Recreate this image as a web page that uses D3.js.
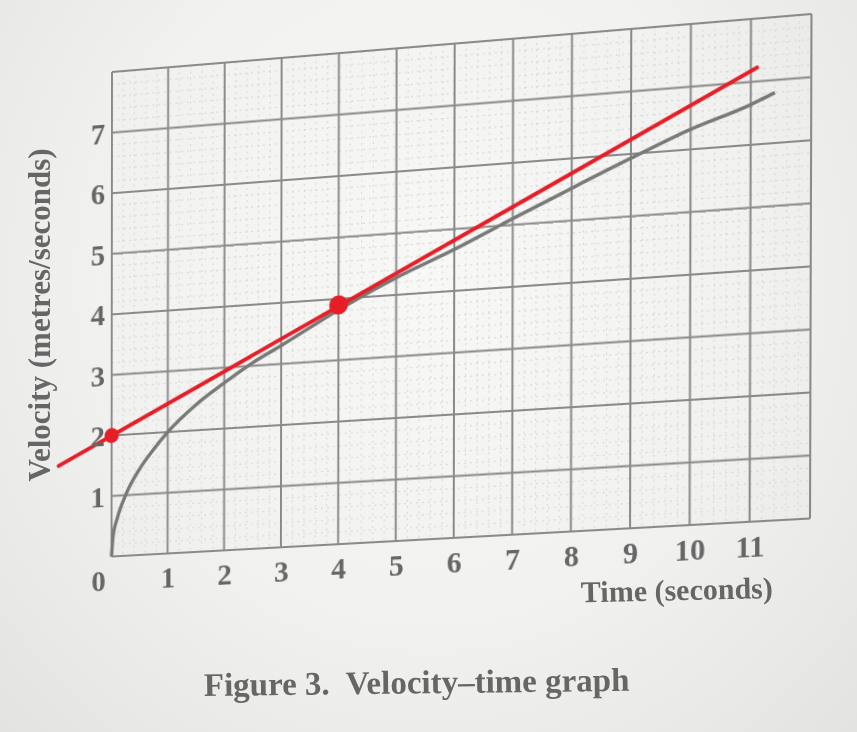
<!DOCTYPE html>
<html>
<head>
<meta charset="utf-8">
<script src="https://cdn.jsdelivr.net/npm/d3@7"></script>
<style>
  html, body { margin: 0; padding: 0; }
  body {
    width: 857px; height: 732px; overflow: hidden; position: relative;
    background: radial-gradient(ellipse at 50% 38%, #f8f8f7 0%, #f1f1f0 55%, #e3e3e2 100%);
  }
  #warp { position: absolute; left: 0; top: 0; width: 857px; height: 732px; transform-origin: 0 0; }
  #flat { position: absolute; left: 0; top: 0; }
  text { font-family: "Liberation Serif", "DejaVu Serif", serif; font-weight: bold; fill: #666; }
</style>
</head>
<body>
<div id="warp"></div>
<script>
// values
var xTicks = [0, 1, 2, 3, 4, 5, 6, 7, 8, 9, 10, 11];
var yTicks = [1, 2, 3, 4, 5, 6, 7];

// grey velocity curve
var curveTime     = [0, 0.03, 0.1, 0.25, 0.5, 0.75, 1, 1.5, 2, 2.5, 3, 4, 5, 6, 7, 8, 9, 10, 11, 11.4];
var curveVelocity = [0, 0.35, 0.62, 1.0, 1.42, 1.73, 2.0, 2.42, 2.75, 3.05, 3.3, 3.82, 4.28, 4.67, 5.1, 5.52, 5.93, 6.32, 6.64, 6.8];

// red tangent line and its two points
var tangentTime     = [-0.95, 11.1];
var tangentVelocity = [1.55, 7.22];
var dotTime     = [0, 4];
var dotVelocity = [2, 3.9];

var width = 857;
var height = 732;

var xScale = d3.scaleLinear().domain([0, 12]).range([111, 811]);
var yScale = d3.scaleLinear().domain([0, 8]).range([556, 72]);

// the figure is a photo of a page, so the flat chart is put in perspective
// corners of the grid: flat position -> where they sit in the photo
var flatCorners  = [[111, 556], [811, 556], [811, 72], [111, 72]];
var photoCorners = [[111.5, 556.5], [810, 518.5], [811.5, 14], [112, 72]];

function homography(src, dst) {
  var A = [];
  for (var i = 0; i < 4; i++) {
    var x = src[i][0], y = src[i][1], u = dst[i][0], v = dst[i][1];
    A.push([x, y, 1, 0, 0, 0, -x * u, -y * u, u]);
    A.push([0, 0, 0, x, y, 1, -x * v, -y * v, v]);
  }
  var n = 8;
  for (var c = 0; c < n; c++) {
    var p = c;
    for (var r = c + 1; r < n; r++) if (Math.abs(A[r][c]) > Math.abs(A[p][c])) p = r;
    var tmp = A[c]; A[c] = A[p]; A[p] = tmp;
    for (var r2 = c + 1; r2 < n; r2++) {
      var f = A[r2][c] / A[c][c];
      for (var k = c; k <= n; k++) A[r2][k] -= f * A[c][k];
    }
  }
  var h = new Array(n);
  for (var i2 = n - 1; i2 >= 0; i2--) {
    var s = A[i2][n];
    for (var k2 = i2 + 1; k2 < n; k2++) s -= A[i2][k2] * h[k2];
    h[i2] = s / A[i2][i2];
  }
  return h;
}

var h = homography(flatCorners, photoCorners);
d3.select("#warp").style("transform",
  "matrix3d(" + [h[0], h[3], 0, h[6], h[1], h[4], 0, h[7], 0, 0, 1, 0, h[2], h[5], 0, 1].join(",") + ")");

var svg = d3.select("#warp")
  .append("svg")
  .attr("width", width)
  .attr("height", height);

// fine graph-paper lines, five to a square
var minorX = d3.range(0, 12.001, 0.2).filter(function(d){ return Math.abs(d - Math.round(d)) > 0.01; });
var minorY = d3.range(0, 8.001, 0.2).filter(function(d){ return Math.abs(d - Math.round(d)) > 0.01; });

svg.append("g").selectAll("line")
  .data(minorX)
  .enter()
  .append("line")
  .attr("x1", function(d){ return xScale(d); })
  .attr("x2", function(d){ return xScale(d); })
  .attr("y1", yScale(8))
  .attr("y2", yScale(0))
  .attr("stroke", "#d6d6d6")
  .attr("stroke-width", 1)
  .attr("stroke-dasharray", "2,4");

svg.append("g").selectAll("line")
  .data(minorY)
  .enter()
  .append("line")
  .attr("x1", xScale(0))
  .attr("x2", xScale(12))
  .attr("y1", function(d){ return yScale(d); })
  .attr("y2", function(d){ return yScale(d); })
  .attr("stroke", "#d6d6d6")
  .attr("stroke-width", 1)
  .attr("stroke-dasharray", "2,4");

// major grid
svg.append("g").selectAll("line")
  .data(d3.range(0, 13))
  .enter()
  .append("line")
  .attr("x1", function(d){ return xScale(d); })
  .attr("x2", function(d){ return xScale(d); })
  .attr("y1", yScale(8))
  .attr("y2", yScale(0))
  .attr("stroke", "#8a8a8a")
  .attr("stroke-width", 2);

svg.append("g").selectAll("line")
  .data(d3.range(0, 9))
  .enter()
  .append("line")
  .attr("x1", xScale(0))
  .attr("x2", xScale(12))
  .attr("y1", function(d){ return yScale(d); })
  .attr("y2", function(d){ return yScale(d); })
  .attr("stroke", "#8a8a8a")
  .attr("stroke-width", 2);

// velocity curve
var curvePoints = curveTime.map(function(t, i){ return [t, curveVelocity[i]]; });
var line = d3.line()
  .x(function(d){ return xScale(d[0]); })
  .y(function(d){ return yScale(d[1]); })
  .curve(d3.curveMonotoneX);

svg.append("path")
  .datum(curvePoints)
  .attr("d", line)
  .attr("fill", "none")
  .attr("stroke", "#787a78")
  .attr("stroke-width", 3.5);

// red tangent
var tangentPoints = tangentTime.map(function(t, i){ return [t, tangentVelocity[i]]; });
svg.append("path")
  .datum(tangentPoints)
  .attr("d", d3.line().x(function(d){ return xScale(d[0]); }).y(function(d){ return yScale(d[1]); }))
  .attr("fill", "none")
  .attr("stroke", "#e61e28")
  .attr("stroke-width", 4)
  .attr("stroke-linecap", "round");

svg.selectAll("circle")
  .data(dotTime)
  .enter()
  .append("circle")
  .attr("cx", function(d){ return xScale(d); })
  .attr("cy", function(d, i){ return yScale(dotVelocity[i]); })
  .attr("r", function(d, i){ return i == 0 ? 7.5 : 9.5; })
  .attr("fill", "#e61e28");

// tick labels
var xAxis = d3.axisBottom(xScale)
  .tickValues(xTicks)
  .tickSize(0)
  .tickPadding(13);

var gx = svg.append("g")
  .attr("transform", "translate(0," + yScale(0) + ")")
  .call(xAxis);
gx.select(".domain").remove();
gx.selectAll("text")
  .attr("font-size", 30)
  .attr("font-family", null)
  .attr("fill", null)
  .attr("x", function(d){ return d == 0 ? -14 : 0; });

var yAxis = d3.axisLeft(yScale)
  .tickValues(yTicks)
  .tickSize(0)
  .tickPadding(7);

var gy = svg.append("g")
  .attr("transform", "translate(" + xScale(0) + ",0)")
  .call(yAxis);
gy.select(".domain").remove();
gy.selectAll("text")
  .attr("font-size", 30)
  .attr("font-family", null)
  .attr("fill", null);

// titles sit flat on the page
var flat = d3.select("body")
  .append("svg")
  .attr("id", "flat")
  .attr("width", width)
  .attr("height", height);

flat.append("text")
  .attr("transform", "translate(50,315) rotate(-90)")
  .attr("text-anchor", "middle")
  .attr("font-size", 31)
  .text("Velocity (metres/seconds)");

flat.append("text")
  .attr("transform", "translate(773,598) rotate(-1.3)")
  .attr("text-anchor", "end")
  .attr("font-size", 30)
  .text("Time (seconds)");

flat.append("text")
  .attr("transform", "translate(204,696) rotate(-0.7)")
  .attr("font-size", 33)
  .style("white-space", "pre")
  .text("Figure 3.  Velocity\u2013time graph");
</script>
</body>
</html>
